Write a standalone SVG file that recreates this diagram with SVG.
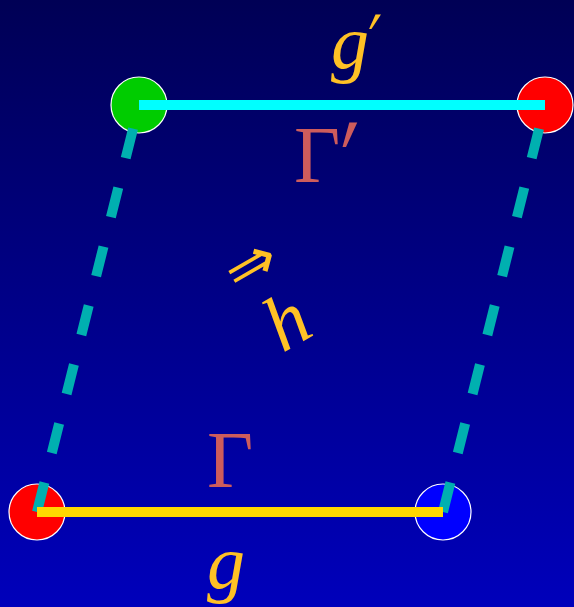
<svg xmlns="http://www.w3.org/2000/svg" width="574" height="607" viewBox="0 0 574 607">
  <defs>
    <linearGradient id="bg" x1="0" y1="0" x2="0" y2="1">
      <stop offset="0" stop-color="#000055"/>
      <stop offset="1" stop-color="#0000bb"/>
    </linearGradient>
  </defs>
  <style>
    .node { stroke: #ffffff; stroke-width: 1.2; }
    .dash { stroke: #00b0b0; stroke-width: 10; stroke-dasharray: 30.4 30.4; fill: none; }
    .edge { stroke-width: 10; fill: none; }
    .lbl { font-family: "Liberation Serif", "DejaVu Serif", serif; }
    .it { font-style: italic; fill: #ffc125; }
    .gam { fill: #cd5c5c; }
    .prime { font-family: "DejaVu Sans", sans-serif; }
  </style>
  <rect width="574" height="607" fill="url(#bg)"/>
  <g id="node-top-left"><circle class="node" cx="139" cy="105" r="28" fill="#00cc00"/></g>
  <g id="node-top-right"><circle class="node" cx="545" cy="105" r="28" fill="#ff0000"/></g>
  <g id="node-bottom-left"><circle class="node" cx="37" cy="512" r="28" fill="#ff0000"/></g>
  <g id="node-bottom-right"><circle class="node" cx="443" cy="512" r="28" fill="#0000ff"/></g>
  <g id="connectors">
    <line class="dash" x1="37" y1="512" x2="139" y2="105"/>
    <line class="dash" x1="443" y1="512" x2="545" y2="105"/>
    <line class="edge" x1="139" y1="105" x2="545" y2="105" stroke="#00ffff"/>
    <line class="edge" x1="37" y1="512" x2="443" y2="512" stroke="#ffd700"/>
  </g>
  <g id="labels">
    <text class="lbl it" x="331" y="68" font-size="76">g</text>
    <text class="prime it" font-size="54" transform="translate(369,72) scale(1,1.45)">′</text>
    <text class="lbl gam" x="294" y="182" font-size="80">Γ</text>
    <text class="prime gam" font-size="80" transform="translate(341,221) scale(1,1.7)">′</text>
    <text class="lbl gam" x="207" y="487" font-size="80">Γ</text>
    <text class="lbl it" x="207" y="588" font-size="76">g</text>
    <g transform="translate(286,320) rotate(-30)">
      <text class="prime it" x="-3" y="-45" font-size="62" text-anchor="middle">⇒</text>
      <text class="lbl it" x="0" y="27" font-size="78" text-anchor="middle">h</text>
    </g>
  </g>
</svg>
